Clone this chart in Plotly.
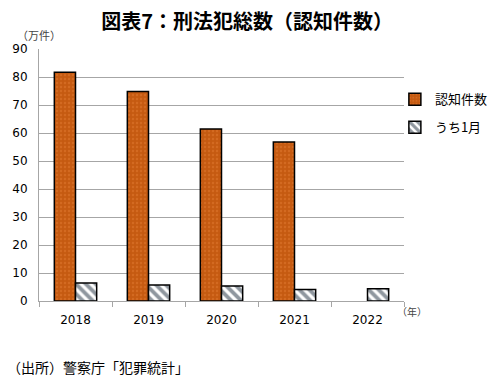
import plotly.graph_objects as go

years = ["2018", "2019", "2020", "2021", "2022"]
ninchi = [81.7, 74.8, 61.4, 56.8, None]
jan = [6.4, 5.7, 5.4, 4.1, 4.4]
yticks = [0, 10, 20, 30, 40, 50, 60, 70, 80, 90]

font = "Noto Sans CJK JP"

fig = go.Figure()
fig.add_trace(go.Bar(
    x=years, y=ninchi, name="認知件数", legendgroup="a",
    marker=dict(color="#C55A11", line=dict(color="#000000", width=1.5),
                pattern=dict(shape=".", fgcolor="#E07A30", bgcolor="#C55A11", size=4, solidity=0.3)),
))
fig.add_trace(go.Bar(
    x=years, y=jan, name="うち1月", legendgroup="b",
    marker=dict(color="white", line=dict(color="#000000", width=1.5),
                pattern=dict(shape="\\", fgcolor="#1F2F3F", bgcolor="white", size=7, solidity=0.55)),
))

fig.update_layout(
    width=492, height=377,
    margin=dict(l=31, r=96, t=41, b=84, autoexpand=False),
    paper_bgcolor="white", plot_bgcolor="white",
    barmode="group", bargap=0.42, bargroupgap=0,
    font=dict(family=font, size=11, color="#000000"),
    showlegend=True,
    legend=dict(x=0.975, y=0.86, xanchor="left", yanchor="top",
                font=dict(size=13), traceorder="grouped", tracegroupgap=8, itemwidth=30,
                bgcolor="rgba(0,0,0,0)"),
    title=dict(text="<b>図表7：刑法犯総数（認知件数）</b>", x=0.486, xanchor="center",
               y=0.962, yanchor="middle", font=dict(size=20, family=font)),
)
fig.update_yaxes(range=[0, 90], tickvals=yticks, showgrid=True, gridcolor="#A6A6A6",
                 gridwidth=1, showline=True, linecolor="#A6A6A6", ticks="",
                 ticklabelstandoff=8, automargin=False,
                 tickfont=dict(size=12, family="DejaVu Sans"), zeroline=False)
fig.update_xaxes(showline=True, linecolor="#A6A6A6", ticks="outside", tickson="boundaries",
                 ticklen=5, tickcolor="#A6A6A6", ticklabelstandoff=8, automargin=False,
                 tickfont=dict(size=12, family="DejaVu Sans"))

fig.add_annotation(text="（万件）", xref="paper", yref="paper", x=-0.066, y=1.056,
                   xanchor="left", yanchor="middle", showarrow=False,
                   font=dict(size=11, color="#444444"))
fig.add_annotation(text="（年）", x=0.975, y=-0.04, xref="paper", yref="paper",
                   xanchor="left", yanchor="middle", showarrow=False,
                   font=dict(size=10, color="#444444"))
fig.add_annotation(text="（出所）警察庁「犯罪統計」", x=-0.093, y=-0.262, xref="paper", yref="paper",
                   xanchor="left", yanchor="middle", showarrow=False,
                   font=dict(size=14))

fig.write_html("out.html")
